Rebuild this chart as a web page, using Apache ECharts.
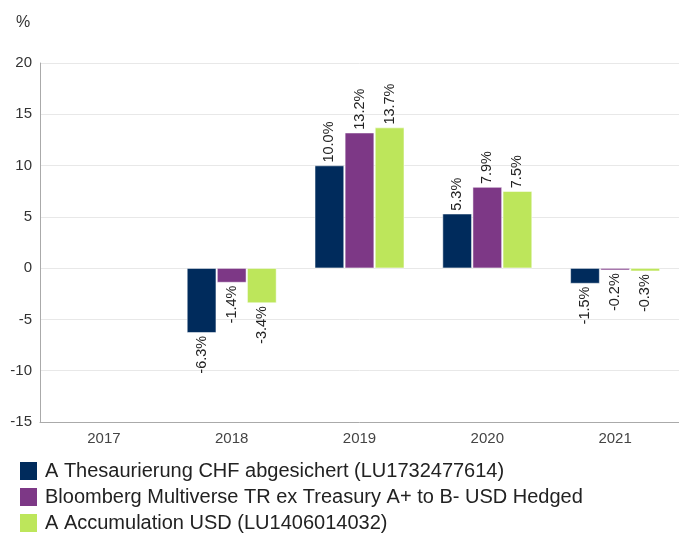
<!DOCTYPE html>
<html>
<head>
<meta charset="utf-8">
<script src="https://cdn.jsdelivr.net/npm/echarts@6/dist/echarts.min.js"></script>
<style>
  html, body { margin: 0; padding: 0; background: #fff; }
  #chart { width: 679px; height: 533px; }
</style>
</head>
<body>
<div id="chart"></div>
<script>
const years = ['2017', '2018', '2019', '2020', '2021']
const seriesNames = [
  'A Thesaurierung CHF abgesichert (LU1732477614)',
  'Bloomberg Multiverse TR ex Treasury A+ to B- USD Hedged',
  'A Accumulation USD (LU1406014032)'
]
const fundChf = [null, -6.3, 10.0, 5.3, -1.5]
const benchmark = [null, -1.4, 13.2, 7.9, -0.2]
const fundUsd = [null, -3.4, 13.7, 7.5, -0.3]
const colors = ['#002b5c', '#7d3886', '#bde65b']
const yTicks = { min: -15, max: 20, interval: 5 }

const FONT = 'Liberation Sans, Arial, sans-serif'

// label goes above positive bars and below negative ones
const toData = (values) => values.map((v) => {
  if (v == null) return '-'
  return {
    value: v,
    label: v >= 0
      ? { position: 'top', align: 'left', verticalAlign: 'middle' }
      : { position: 'bottom', align: 'right', verticalAlign: 'middle' },
  }
})

const makeSeries = (name, values, color) => ({
  name: name,
  type: 'bar',
  barGap: '3%',
  barCategoryGap: '30%',
  itemStyle: { color: color, borderColor: '#fff', borderWidth: 0.5 },
  label: {
    show: true,
    rotate: 90,
    distance: 3,
    color: '#222',
    fontFamily: FONT,
    fontSize: 14.5,
    formatter: (p) => p.value.toFixed(1) + '%',
  },
  data: toData(values),
})

const chart = echarts.init(document.getElementById('chart'))

const option = {
  animation: false,
  backgroundColor: '#fff',
  color: colors,
  title: {
    text: '%',
    left: 11,
    top: 10,
    textStyle: { fontFamily: FONT, fontSize: 16, fontWeight: 'normal', color: '#333' },
  },
  grid: { left: 40, right: 0, top: 63, bottom: 111, containLabel: false },
  legend: {
    orient: 'vertical',
    left: 18,
    top: 460,
    width: 660,
    height: 80,
    padding: 0,
    itemWidth: 19,
    itemHeight: 20,
    itemGap: 4,
    icon: 'rect',
    textStyle: { fontFamily: FONT, fontSize: 20, color: '#222', padding: [0, 0, 0, 2] },
    data: seriesNames,
  },
  xAxis: {
    type: 'category',
    data: years,
    axisLine: { onZero: false, lineStyle: { color: '#aaa' } },
    axisTick: { show: false },
    axisLabel: { fontFamily: FONT, fontSize: 15, color: '#444', margin: 9 },
  },
  yAxis: {
    type: 'value',
    min: yTicks.min,
    max: yTicks.max,
    interval: yTicks.interval,
    axisLine: { show: true, lineStyle: { color: '#aaa' } },
    axisTick: { show: false },
    axisLabel: { fontFamily: FONT, fontSize: 15, color: '#333', margin: 8 },
    splitLine: { lineStyle: { color: '#e8e8e8' } },
  },
  series: [
    makeSeries(seriesNames[0], fundChf, colors[0]),
    makeSeries(seriesNames[1], benchmark, colors[1]),
    makeSeries(seriesNames[2], fundUsd, colors[2]),
  ],
}

chart.setOption(option)
</script>
</body>
</html>
